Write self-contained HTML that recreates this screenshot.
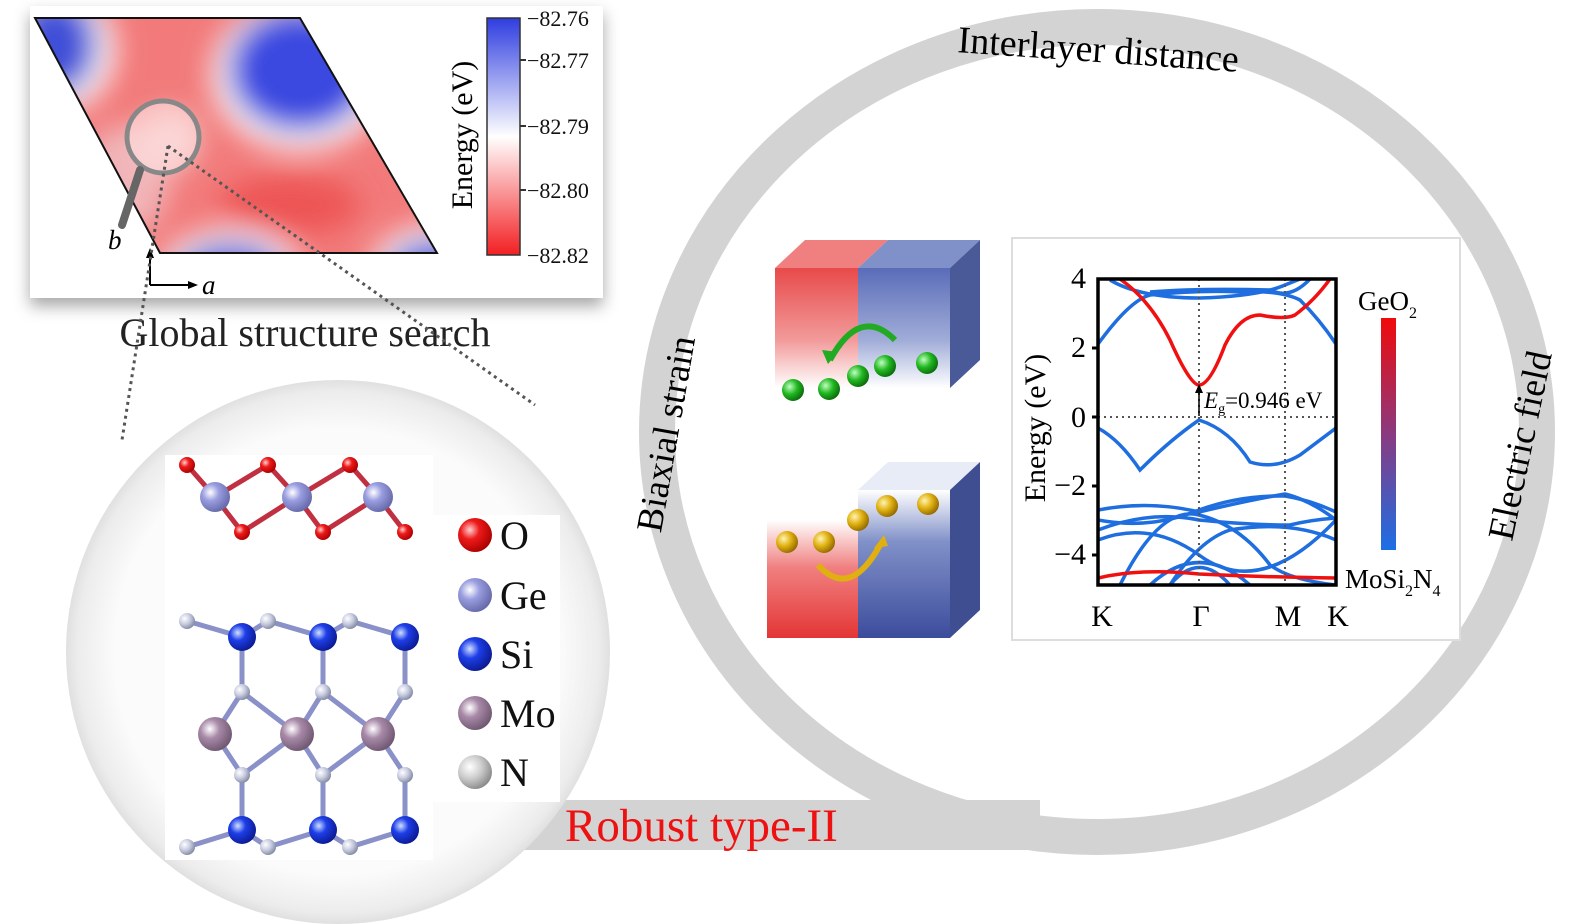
<!DOCTYPE html>
<html><head><meta charset="utf-8"><style>
html,body{margin:0;padding:0;background:#fff;}
svg{display:block;font-family:"Liberation Serif",serif;}
</style></head><body>
<svg width="1583" height="924" viewBox="0 0 1583 924" xmlns="http://www.w3.org/2000/svg">
<defs>
<radialGradient id="bigc" cx="0.5" cy="0.5" r="0.5">
<stop offset="0.82" stop-color="#fbfbfb"/><stop offset="0.96" stop-color="#ececec"/><stop offset="1" stop-color="#e0e0e0"/>
</radialGradient>
<linearGradient id="cbar" x1="0" y1="0" x2="0" y2="1">
<stop offset="0" stop-color="#2f3de0"/><stop offset="0.5" stop-color="#ffffff"/><stop offset="1" stop-color="#f21f22"/>
</linearGradient>
<linearGradient id="gbar" x1="0" y1="0" x2="0" y2="1">
<stop offset="0" stop-color="#f00a0a"/><stop offset="0.5" stop-color="#8a3a80"/><stop offset="1" stop-color="#1c6fe6"/>
</linearGradient>
<linearGradient id="redf" x1="0" y1="0" x2="0" y2="1">
<stop offset="0" stop-color="#e84a4a"/><stop offset="0.6" stop-color="#f29a9a"/><stop offset="1" stop-color="#ffffff"/>
</linearGradient>
<linearGradient id="bluf" x1="0" y1="0" x2="0" y2="1">
<stop offset="0" stop-color="#5a6cb8"/><stop offset="0.6" stop-color="#a0acd8"/><stop offset="1" stop-color="#ffffff"/>
</linearGradient>
<linearGradient id="redf2" x1="0" y1="0" x2="0" y2="1">
<stop offset="0" stop-color="#ffffff"/><stop offset="0.4" stop-color="#f08080"/><stop offset="1" stop-color="#e43535"/>
</linearGradient>
<linearGradient id="bluf2" x1="0" y1="0" x2="0" y2="1">
<stop offset="0" stop-color="#ffffff"/><stop offset="0.35" stop-color="#8090c8"/><stop offset="1" stop-color="#3c4c9c"/>
</linearGradient>
<radialGradient id="rd" cx="0.35" cy="0.35" r="0.7"><stop offset="0" stop-color="#ffd0d0"/><stop offset="0.4" stop-color="#ee1a1a"/><stop offset="1" stop-color="#a00"/></radialGradient>
<radialGradient id="ge" cx="0.35" cy="0.35" r="0.7"><stop offset="0" stop-color="#fff"/><stop offset="0.4" stop-color="#9a9ee0"/><stop offset="1" stop-color="#6468a8"/></radialGradient>
<radialGradient id="si" cx="0.35" cy="0.35" r="0.7"><stop offset="0" stop-color="#cfe0ff"/><stop offset="0.4" stop-color="#1e3ee8"/><stop offset="1" stop-color="#0a1a90"/></radialGradient>
<radialGradient id="mo" cx="0.35" cy="0.35" r="0.7"><stop offset="0" stop-color="#fff"/><stop offset="0.4" stop-color="#a88aa8"/><stop offset="1" stop-color="#6e5670"/></radialGradient>
<radialGradient id="nn" cx="0.35" cy="0.35" r="0.7"><stop offset="0" stop-color="#fff"/><stop offset="0.5" stop-color="#c8cce0"/><stop offset="1" stop-color="#8088a0"/></radialGradient>
<radialGradient id="gr" cx="0.35" cy="0.35" r="0.7"><stop offset="0" stop-color="#fff"/><stop offset="0.5" stop-color="#ccc"/><stop offset="1" stop-color="#888"/></radialGradient>
<radialGradient id="el" cx="0.35" cy="0.35" r="0.7"><stop offset="0" stop-color="#bfffbf"/><stop offset="0.5" stop-color="#22b822"/><stop offset="1" stop-color="#0a6a0a"/></radialGradient>
<radialGradient id="ho" cx="0.35" cy="0.35" r="0.7"><stop offset="0" stop-color="#fff4b0"/><stop offset="0.5" stop-color="#e0b010"/><stop offset="1" stop-color="#906800"/></radialGradient>
<clipPath id="par"><polygon points="35,18 300,18 437,253 160,253"/></clipPath>
<clipPath id="frm"><rect x="1098" y="279" width="238" height="306"/></clipPath>
<filter id="sh" x="-10%" y="-10%" width="120%" height="130%"><feDropShadow dx="0" dy="8" stdDeviation="8" flood-color="#000" flood-opacity="0.35"/></filter>
<filter id="bl"><feGaussianBlur stdDeviation="14"/></filter>
</defs>

<ellipse cx="1097" cy="432" rx="440" ry="405" fill="none" stroke="#d3d3d3" stroke-width="36"/>
<rect x="480" y="800" width="560" height="50" fill="#d3d3d3"/>

<circle cx="338" cy="652" r="272" fill="url(#bigc)"/>
<rect x="165" y="455" width="268" height="405" fill="#fff"/>
<rect x="433" y="515" width="127" height="287" fill="#fff"/>

<rect x="30" y="6" width="573" height="292" fill="#fff" filter="url(#sh)"/>
<g clip-path="url(#par)">
<rect x="30" y="10" width="420" height="250" fill="#f27a7a"/>
<g filter="url(#bl)">
<ellipse cx="125" cy="180" rx="45" ry="55" fill="#f0f0f8" opacity="0.5"/>
<ellipse cx="60" cy="50" rx="55" ry="60" fill="#fff"/>
<ellipse cx="55" cy="45" rx="42" ry="50" fill="#4050d8"/>
<ellipse cx="300" cy="75" rx="88" ry="75" fill="#fff"/>
<ellipse cx="300" cy="70" rx="72" ry="62" fill="#3a48e0"/>
<ellipse cx="230" cy="275" rx="70" ry="45" fill="#fff"/>
<ellipse cx="230" cy="275" rx="55" ry="32" fill="#4a58dc"/>
<ellipse cx="440" cy="275" rx="70" ry="50" fill="#fff"/>
<ellipse cx="440" cy="275" rx="55" ry="36" fill="#4a58dc"/>
<ellipse cx="170" cy="140" rx="30" ry="30" fill="#f6c8c8"/>
<ellipse cx="290" cy="205" rx="70" ry="30" fill="#ee5555"/>
</g>
</g>
<polygon points="35,18 300,18 437,253 160,253" fill="none" stroke="#111" stroke-width="2"/>
<circle cx="163" cy="137" r="36" fill="rgba(255,225,225,0.6)" stroke="#888" stroke-width="5"/>
<line x1="140" y1="170" x2="122" y2="225" stroke="#666" stroke-width="8" stroke-linecap="round"/>
<path d="M150 285 L150 255 M150 285 L190 285" stroke="#000" stroke-width="2" fill="none"/>
<polygon points="146,258 154,258 150,248" fill="#000"/><polygon points="188,281 188,289 198,285" fill="#000"/>
<text x="108" y="249" font-size="27" font-style="italic">b</text>
<text x="202" y="294" font-size="27" font-style="italic">a</text>
<rect x="487" y="18" width="33" height="237" fill="url(#cbar)" stroke="#333" stroke-width="1.5"/>
<g font-size="22" fill="#111">
<text x="527" y="26">−82.76</text><text x="527" y="68">−82.77</text><text x="527" y="134">−82.79</text><text x="527" y="198">−82.80</text><text x="527" y="263">−82.82</text>
</g>
<g stroke="#333" stroke-width="2"><line x1="520" y1="60" x2="526" y2="60"/><line x1="520" y1="126" x2="526" y2="126"/><line x1="520" y1="190" x2="526" y2="190"/></g>
<text transform="translate(472,135) rotate(-90)" font-size="30" text-anchor="middle">Energy (eV)</text>
<text x="305" y="346" font-size="40" text-anchor="middle" fill="#222">Global structure search</text>
<path d="M168 146 L122 440 M168 146 L535 405" stroke="#555" stroke-width="3" stroke-dasharray="3,4" fill="none"/>

<g stroke-width="5" stroke-linecap="round">
<path d="M187 465 L215 497 L242 532 L297 497 L268 465 L215 497 M297 497 L323 532 L378 497 L350 465 L297 497 M378 497 L405 532" stroke="#c03040" fill="none"/>
<path d="M187 621 L242 637 L268 621 L323 637 L350 621 L405 637 M242 637 L242 692 M323 637 L323 692 M405 637 L405 692 M242 692 L215 734 L242 775 M242 692 L297 734 L323 692 L378 734 L405 692 M242 775 L297 734 L323 775 L378 734 L405 775 M242 775 L242 830 M323 775 L323 830 M405 775 L405 830 M187 847 L242 830 L268 847 L323 830 L350 847 L405 830" stroke="#8a90c8" fill="none"/>
</g>
<g>
<circle cx="187" cy="465" r="8" fill="url(#rd)"/><circle cx="268" cy="465" r="8" fill="url(#rd)"/><circle cx="350" cy="465" r="8" fill="url(#rd)"/>
<circle cx="242" cy="532" r="8" fill="url(#rd)"/><circle cx="323" cy="532" r="8" fill="url(#rd)"/><circle cx="405" cy="532" r="8" fill="url(#rd)"/>
<circle cx="215" cy="497" r="15" fill="url(#ge)"/><circle cx="297" cy="497" r="15" fill="url(#ge)"/><circle cx="378" cy="497" r="15" fill="url(#ge)"/>
<circle cx="187" cy="621" r="8" fill="url(#nn)"/><circle cx="268" cy="621" r="8" fill="url(#nn)"/><circle cx="350" cy="621" r="8" fill="url(#nn)"/>
<circle cx="242" cy="637" r="14" fill="url(#si)"/><circle cx="323" cy="637" r="14" fill="url(#si)"/><circle cx="405" cy="637" r="14" fill="url(#si)"/>
<circle cx="242" cy="692" r="8" fill="url(#nn)"/><circle cx="323" cy="692" r="8" fill="url(#nn)"/><circle cx="405" cy="692" r="8" fill="url(#nn)"/>
<circle cx="215" cy="734" r="17" fill="url(#mo)"/><circle cx="297" cy="734" r="17" fill="url(#mo)"/><circle cx="378" cy="734" r="17" fill="url(#mo)"/>
<circle cx="242" cy="775" r="8" fill="url(#nn)"/><circle cx="323" cy="775" r="8" fill="url(#nn)"/><circle cx="405" cy="775" r="8" fill="url(#nn)"/>
<circle cx="242" cy="830" r="14" fill="url(#si)"/><circle cx="323" cy="830" r="14" fill="url(#si)"/><circle cx="405" cy="830" r="14" fill="url(#si)"/>
<circle cx="187" cy="847" r="8" fill="url(#nn)"/><circle cx="268" cy="847" r="8" fill="url(#nn)"/><circle cx="350" cy="847" r="8" fill="url(#nn)"/>
</g>
<g font-size="40" fill="#111">
<circle cx="475" cy="535" r="17" fill="url(#rd)"/><text x="500" y="549">O</text>
<circle cx="475" cy="595" r="17" fill="url(#ge)"/><text x="500" y="609">Ge</text>
<circle cx="475" cy="654" r="17" fill="url(#si)"/><text x="500" y="668">Si</text>
<circle cx="475" cy="713" r="17" fill="url(#mo)"/><text x="500" y="727">Mo</text>
<circle cx="475" cy="772" r="17" fill="url(#gr)"/><text x="500" y="786">N</text>
</g>
<text x="565" y="841" font-size="47" fill="#ee1111">Robust type-II</text>

<text x="1098" y="62" font-size="38" text-anchor="middle" transform="rotate(4 1098 55)">Interlayer distance</text>
<text transform="translate(678,436) rotate(-80)" font-size="37" text-anchor="middle">Biaxial strain</text>
<text transform="translate(1532,448) rotate(-78)" font-size="37" text-anchor="middle">Electric field</text>

<polygon points="775,268 858,268 888,240 805,240" fill="#f08080"/>
<polygon points="858,268 950,268 980,240 888,240" fill="#8090c8"/>
<polygon points="950,268 980,240 980,360 950,388" fill="#4a5a98"/>
<rect x="775" y="268" width="83" height="120" fill="url(#redf)"/>
<rect x="858" y="268" width="92" height="120" fill="url(#bluf)"/>
<path d="M830 360 Q860 305 895 340" stroke="#22aa22" stroke-width="6" fill="none"/>
<polygon points="822,350 838,352 828,364" fill="#22aa22"/>
<circle cx="793" cy="390" r="11" fill="url(#el)"/><circle cx="829" cy="389" r="11" fill="url(#el)"/><circle cx="858" cy="376" r="11" fill="url(#el)"/><circle cx="885" cy="366" r="11" fill="url(#el)"/><circle cx="927" cy="363" r="11" fill="url(#el)"/>
<polygon points="858,490 950,490 980,462 888,462" fill="#e8ecf6"/>
<polygon points="950,490 980,462 980,610 950,638" fill="#3e4e90"/>
<rect x="767" y="520" width="91" height="118" fill="url(#redf2)"/>
<rect x="858" y="490" width="92" height="148" fill="url(#bluf2)"/>
<path d="M818 565 Q850 600 880 545" stroke="#e0b010" stroke-width="6" fill="none"/>
<polygon points="874,548 888,546 884,535" fill="#e0b010"/>
<circle cx="787" cy="542" r="11" fill="url(#ho)"/><circle cx="824" cy="542" r="11" fill="url(#ho)"/><circle cx="858" cy="520" r="11" fill="url(#ho)"/><circle cx="887" cy="506" r="11" fill="url(#ho)"/><circle cx="928" cy="504" r="11" fill="url(#ho)"/>

<rect x="1012" y="238" width="448" height="402" fill="#fff" stroke="#ddd" stroke-width="2"/>
<g clip-path="url(#frm)" fill="none" stroke-width="3.5">
<g stroke="#1e6ee0">
<path d="M1098 344 Q1130 300 1150 295 Q1200 290 1240 292 Q1280 290 1300 300 Q1320 320 1336 344"/>
<path d="M1110 280 Q1140 298 1200 298 Q1260 296 1285 285 L1300 279"/>
<path d="M1150 292 Q1200 288 1270 290 Q1290 300 1310 279"/>
<path d="M1098 428 Q1120 440 1140 470 Q1170 440 1199 420 Q1230 430 1250 462 Q1275 470 1300 455 Q1320 440 1336 428"/>
<path d="M1098 510 Q1150 500 1199 512 Q1250 500 1285 494 Q1310 500 1336 520"/>
<path d="M1098 520 Q1150 530 1199 510 Q1240 495 1285 496 Q1310 500 1336 512"/>
<path d="M1098 530 Q1150 510 1199 520 Q1250 525 1290 525 Q1310 520 1336 518"/>
<path d="M1098 540 Q1150 520 1199 555 Q1260 600 1336 520"/>
<path d="M1120 585 Q1160 505 1199 515 Q1240 525 1270 565 Q1290 580 1336 585"/>
<path d="M1170 585 Q1199 540 1230 530 Q1290 520 1336 540"/>
<path d="M1150 585 Q1199 540 1250 585"/>
<path d="M1170 585 Q1199 550 1230 585"/>
</g>
<g stroke="#f01010">
<path d="M1120 279 Q1150 300 1170 340 Q1190 385 1199 385 Q1210 385 1225 345 Q1240 315 1260 315 Q1285 320 1295 315 Q1315 300 1330 279"/>
<path d="M1098 578 Q1140 568 1199 574 Q1260 577 1336 578"/>
</g>
</g>
<g stroke="#555" stroke-width="2" stroke-dasharray="2,4">
<line x1="1199" y1="279" x2="1199" y2="585"/><line x1="1285" y1="279" x2="1285" y2="585"/><line x1="1098" y1="417" x2="1336" y2="417"/>
</g>
<line x1="1199" y1="416" x2="1199" y2="390" stroke="#000" stroke-width="1.5"/><polygon points="1195,393 1203,393 1199,384" fill="#000"/>
<text x="1204" y="408" font-size="23"><tspan font-style="italic">E</tspan><tspan font-size="14" dy="5">g</tspan><tspan dy="-5">=0.946 eV</tspan></text>
<rect x="1098" y="279" width="238" height="306" fill="none" stroke="#000" stroke-width="3.5"/>
<g font-size="30" text-anchor="end">
<text x="1086" y="288">4</text><text x="1086" y="357">2</text><text x="1086" y="427">0</text><text x="1086" y="495">−2</text><text x="1086" y="564">−4</text>
</g>
<g stroke="#000" stroke-width="3"><line x1="1092" y1="348" x2="1098" y2="348"/><line x1="1092" y1="417" x2="1098" y2="417"/><line x1="1092" y1="486" x2="1098" y2="486"/><line x1="1092" y1="555" x2="1098" y2="555"/></g>
<text transform="translate(1045,428) rotate(-90)" font-size="30" text-anchor="middle">Energy (eV)</text>
<g font-size="30" text-anchor="middle"><text x="1102" y="626">K</text><text x="1201" y="626">Γ</text><text x="1288" y="626">M</text><text x="1338" y="626">K</text></g>
<text x="1358" y="310" font-size="27">GeO<tspan font-size="16" dy="8">2</tspan></text>
<rect x="1381" y="318" width="15" height="232" fill="url(#gbar)"/>
<text x="1345" y="588" font-size="27">MoSi<tspan font-size="16" dy="8">2</tspan><tspan dy="-8">N</tspan><tspan font-size="16" dy="8">4</tspan></text>
</svg>
</body></html>
